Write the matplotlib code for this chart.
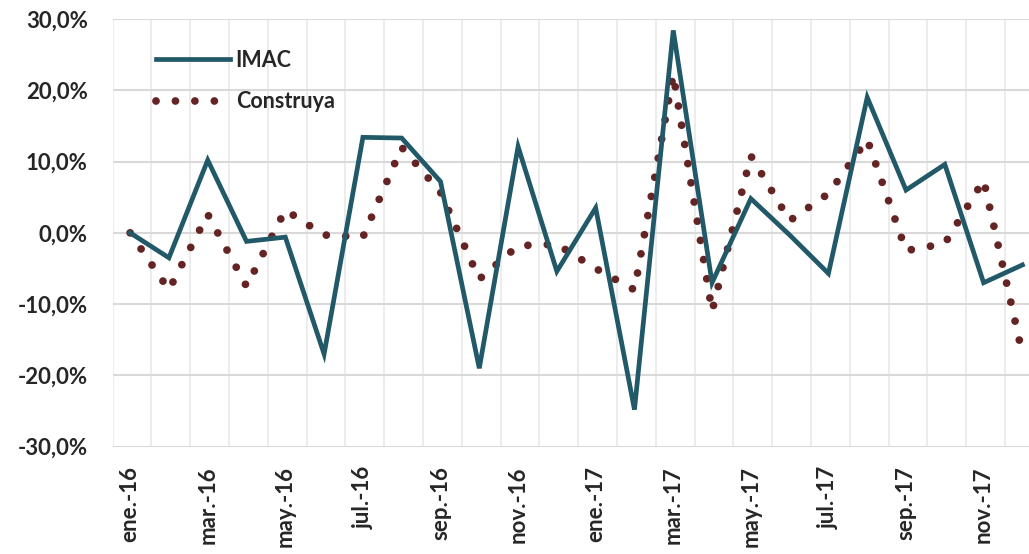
import matplotlib
matplotlib.use("Agg")
import matplotlib.pyplot as plt
from matplotlib.ticker import FuncFormatter
import numpy as np

# -------------------------------
# Data (variación %, ene.-16 a dic.-17)
# -------------------------------
months = ["ene.-16", "feb.-16", "mar.-16", "abr.-16", "may.-16", "jun.-16",
          "jul.-16", "ago.-16", "sep.-16", "oct.-16", "nov.-16", "dic.-16",
          "ene.-17", "feb.-17", "mar.-17", "abr.-17", "may.-17", "jun.-17",
          "jul.-17", "ago.-17", "sep.-17", "oct.-17", "nov.-17", "dic.-17"]

imac = [0.0, -3.5, 10.2, -1.2, -0.6, -17.0, 13.4, 13.3, 7.2, -19.0, 12.1, -5.4,
        3.5, -24.8, 28.4, -7.0, 4.8, -0.3, -5.7, 19.0, 6.0, 9.6, -7.0, -4.5]

construya = [0.0, -8.0, 2.6, -7.5, 3.2, -0.3, -0.6, 12.0, 5.7, -6.5, -1.8, -1.6,
             -5.0, -8.0, 22.2, -11.0, 10.8, 1.7, 5.5, 13.1, -2.5, -1.5, 7.4, -17.0]

y_ticks = [-30, -20, -10, 0, 10, 20, 30]

IMAC_COLOR = "#215968"
CONS_COLOR = "#652424"
TEXT_COLOR = "#262626"
FONT = "Lato"

x = np.arange(len(months))

fig = plt.figure(figsize=(10.29, 5.54), dpi=100)
ax = fig.add_axes([0.1095, 0.1937, 0.8905, 0.772])

ax.plot(x, imac, color=IMAC_COLOR, lw=3.4, solid_joinstyle="miter",
        label="IMAC", zorder=3)
# round dots: zero-length dashes with round caps
ax.plot(x, construya, color=CONS_COLOR, lw=5.6, linestyle=(0, (0.001, 2.5)),
        dash_capstyle="round", label="Construya", zorder=2)

ax.set_xlim(-0.45, 23.17)
ax.set_ylim(-30, 30)

# grid: horizontal at y ticks, vertical between months
ax.set_yticks(y_ticks)
ax.yaxis.set_major_formatter(FuncFormatter(lambda v, p: f"{v:.1f}".replace(".", ",") + "%"))
ax.set_xticks(x[::2])
ax.set_xticklabels(months[::2], rotation=90)
ax.set_xticks(x - 0.45, minor=True)

ax.grid(axis="y", which="major", color="#D9D9D9", lw=1.5, zorder=0)
ax.grid(axis="x", which="minor", color="#EBEBEB", lw=1.3, zorder=0)
ax.set_axisbelow(True)

ax.tick_params(axis="both", which="both", length=0)
ax.tick_params(axis="y", pad=18)
ax.tick_params(axis="x", pad=14)
for lab in ax.get_xticklabels() + ax.get_yticklabels():
    lab.set_fontfamily(FONT)
    lab.set_fontweight("bold")
    lab.set_fontsize(16)
    lab.set_color(TEXT_COLOR)

for s in ax.spines.values():
    s.set_visible(False)

leg = ax.legend(loc="upper left", bbox_to_anchor=(156 / 1029, 1 - 50 / 554),
                bbox_transform=fig.transFigure, frameon=False,
                borderpad=0, borderaxespad=0, handlelength=3.45,
                handletextpad=0.25, labelspacing=0.95,
                prop={"family": FONT, "weight": "bold", "size": 15.5})
for t in leg.get_texts():
    t.set_color(TEXT_COLOR)

fig.savefig("out.png", dpi=100)
